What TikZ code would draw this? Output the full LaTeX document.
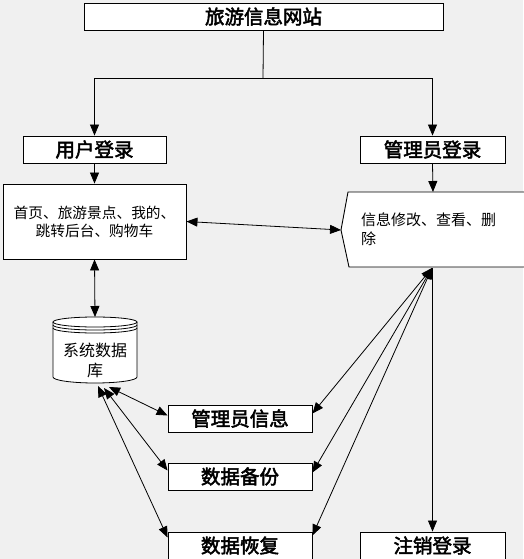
\documentclass[tikz,border=0pt]{standalone}
\usepackage{fontspec}
\setmainfont{Noto Sans CJK SC}[AutoFakeBold=2.5]
\usetikzlibrary{arrows.meta,calc}
\definecolor{bgc}{RGB}{240,240,240}
\tikzset{
  x=1pt,y=-1pt,
  line/.style={draw=black,line width=0.8pt},
  tip/.style={-{Triangle[length=11pt,width=9pt]}},
  dtip/.style={{Triangle[length=11pt,width=9pt]}-{Triangle[length=11pt,width=9pt]}},
  box/.style={draw=black,fill=white,line width=0.9pt,inner sep=0pt,minimum height=27pt},
  btext/.style={font=\fontsize{19.5}{22}\selectfont\bfseries},
}
\begin{document}
\begin{tikzpicture}
\fill[bgc] (0,0) rectangle (523,559);
\useasboundingbox (0,0) rectangle (523,559);

% boxes
\node[box,btext,minimum width=359pt] (top) at (263.5,16.5) {旅游信息网站};
\node[box,btext,minimum width=143pt] (ulogin) at (94.5,149.5) {用户登录};
\node[box,btext,minimum width=145pt] (alogin) at (432.5,149.5) {管理员登录};
\node[box,minimum width=183pt,minimum height=75pt,align=center,
      font=\fontsize{14.7}{18}\selectfont] (ufunc) at (94.5,221.5)
      {首页、旅游景点、我的、\\跳转后台、购物车};

% admin function shape
\coordinate (afL) at (341,230);
\coordinate (afT) at (433,192);
\coordinate (afB) at (432,268);
\fill[white] (530,192) -- (348,192) -- (afL) -- (349,267) -- (530,267) -- cycle;
\draw[line,line width=0.9pt] (530,192) -- (348,192) -- (afL) -- (349,267) -- (530,267);
\node[anchor=west,align=left,inner sep=0pt,font=\fontsize{15}{19}\selectfont] (aftext) at (361,229.5)
      {信息修改、查看、删\\除};

% database cylinder
\fill[white] (53,322) arc[start angle=180,end angle=360,x radius=42,y radius=5]
   -- (137,377) arc[start angle=0,end angle=180,x radius=42,y radius=6] -- cycle;
\draw[line] (53,322) -- (53,377) arc[start angle=180,end angle=0,x radius=42,y radius=6] -- (137,322);
\draw[line] (95,322) ellipse[x radius=42,y radius=5];
\draw[line] (53,325) arc[start angle=180,end angle=0,x radius=42,y radius=5];
\draw[line] (53,328) arc[start angle=180,end angle=0,x radius=42,y radius=5];
\node[align=center,inner sep=0pt,font=\fontsize{16}{20}\selectfont] (db) at (95,360) {系统数据\\库};
\coordinate (dbT) at (95,317);
\coordinate (db1) at (109,387);
\coordinate (db2) at (104,388);
\coordinate (db3) at (98,386);

% lower boxes
\node[box,btext,minimum width=144pt] (ainfo) at (240,418.5) {管理员信息};
\node[box,btext,minimum width=144pt] (backup) at (240,476.5) {数据备份};
\node[box,btext,minimum width=144pt] (restore) at (240,545.5) {数据恢复};
\node[box,btext,minimum width=145pt] (logout) at (432.5,545.5) {注销登录};

% connectors
\coordinate (j) at (263,78);
\draw[line] (top.south) -- (j);
\draw[line,tip] (j) -| (ulogin.north);
\draw[line,tip] (j) -| (alogin.north);
\draw[line,tip] (ulogin.south) -- (ufunc.north);
\draw[line,tip] (alogin.south) -- (afT);
\draw[line,dtip] (ufunc.east) -- (afL);
\draw[line,dtip] (ufunc.south) -- (dbT);

\draw[line,dtip] (db1) -- ([yshift=3pt]ainfo.west);
\draw[line,dtip] (db2) -- ([yshift=6pt]backup.west);
\draw[line,dtip] (db3) -- ([yshift=8pt]restore.west);

\draw[line,dtip] (afB) -- ([yshift=5pt]ainfo.east);
\draw[line,dtip] (afB) -- ([yshift=4pt]backup.east);
\draw[line,dtip] (afB) -- ([yshift=10pt]restore.east);
\draw[line,tip] (afB -| logout.north) -- (logout.north);
\end{tikzpicture}
\end{document}
